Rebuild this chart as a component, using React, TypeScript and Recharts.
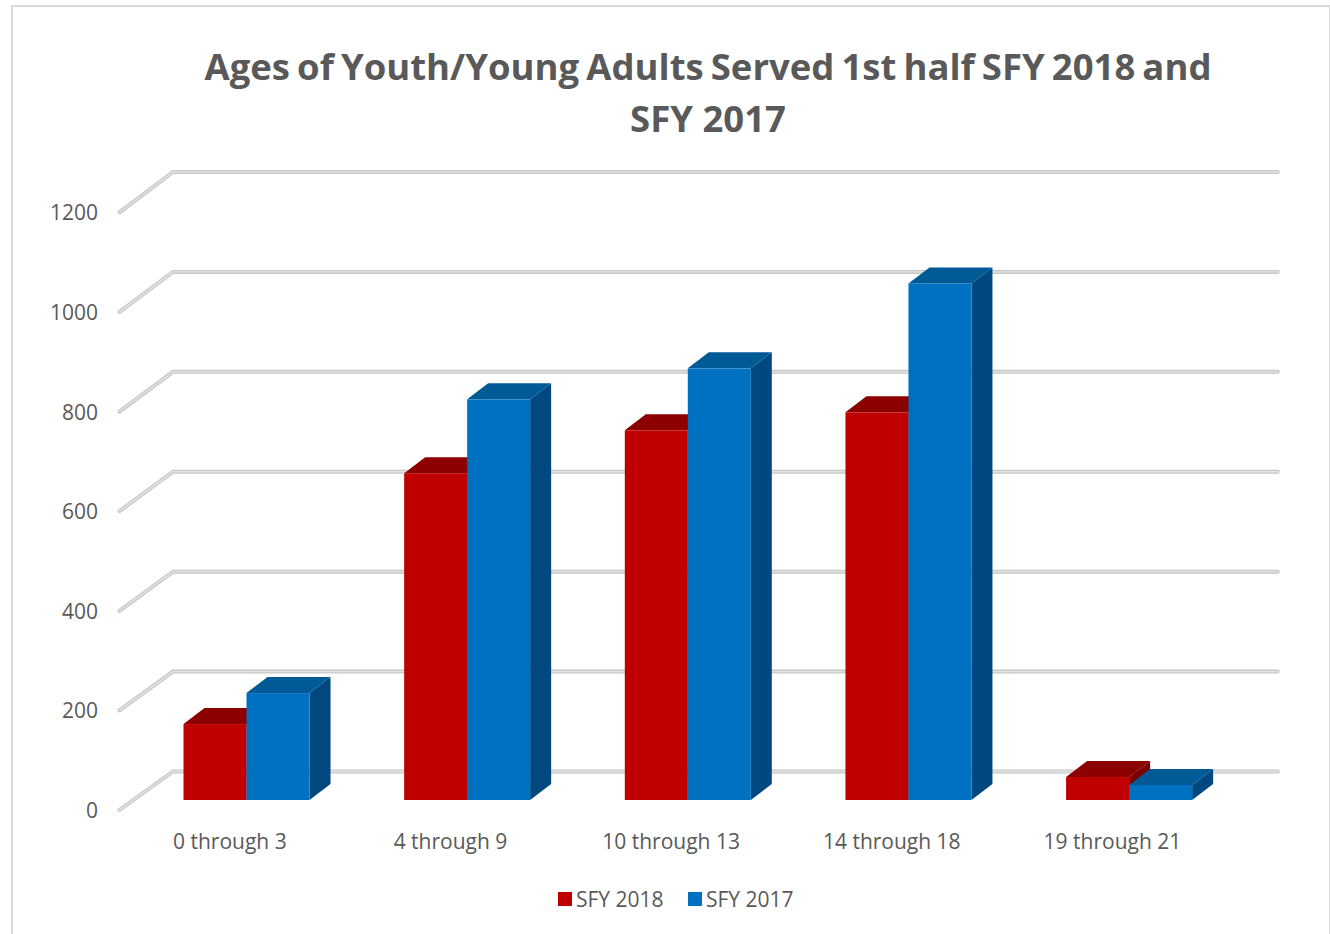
import React from "react";
import { BarChart, Bar, XAxis, YAxis, CartesianGrid, Legend } from "recharts";

const categories = ["0 through 3", "4 through 9", "10 through 13", "14 through 18", "19 through 21"];
const sfy2018 = [152, 654, 740, 776, 46];
const sfy2017 = [214, 802, 864, 1034, 30];
const yTicks = [0, 200, 400, 600, 800, 1000, 1200];

const dataset = categories.map((name, idx) => ({
  name,
  sfy2018: sfy2018[idx],
  sfy2017: sfy2017[idx],
}));

const FONT = "'Open Sans', sans-serif";
const TEXT = "#595959";
const DEPTH_X = 21;
const DEPTH_Y = 16;
const FLOOR_Y = 800;

// the front edge of the side wall is a touch shorter than the back wall
const frontY = (y: number) => y + 10 + (FLOOR_Y - y) * 0.003;

function Bar3D({ x, y, width, height, fill, topFill, sideFill }: any) {
  const r = x + width;
  const b = y + height;
  return (
    <g>
      <polygon
        points={`${r},${y} ${r + DEPTH_X},${y - DEPTH_Y} ${r + DEPTH_X},${b - DEPTH_Y} ${r},${b}`}
        fill={sideFill}
      />
      <polygon
        points={`${x},${y} ${x + DEPTH_X},${y - DEPTH_Y} ${r + DEPTH_X},${y - DEPTH_Y} ${r},${y}`}
        fill={topFill}
      />
      <rect x={x} y={y} width={width} height={height} fill={fill} />
    </g>
  );
}

// floor-to-wall gridline: diagonal on the side wall, then flat along the back wall
function WallLine({ x1, x2, y1 }: any) {
  const pts = `${x1 - 17},${frontY(y1)} ${x1 + 36.5},${y1 - 28.5} ${x2 + 38},${y1 - 28.5}`;
  return (
    <g fill="none" strokeLinecap="round">
      <polyline points={pts} stroke="#c8c8c8" strokeWidth={4} />
      <polyline points={pts} stroke="#e4e4e4" strokeWidth={1.4} />
    </g>
  );
}

function ValueTick({ y, payload }: any) {
  return (
    <text x={98} y={frontY(y)} textAnchor="end" dominantBaseline="central" fontSize={21} fontFamily={FONT} fill={TEXT}>
      {payload.value}
    </text>
  );
}

function CategoryTick({ x, payload }: any) {
  return (
    <text x={x - 17} y={841} textAnchor="middle" dominantBaseline="central" fontSize={21} fontFamily={FONT} fill={TEXT}>
      {payload.value}
    </text>
  );
}

function LegendRow({ payload }: any) {
  return (
    <div style={{ display: "flex", alignItems: "center", fontFamily: FONT, fontSize: 21, color: TEXT, lineHeight: "24px" }}>
      {(payload ?? []).map((entry: any) => (
        <div key={entry.value} style={{ display: "flex", alignItems: "center", width: 130 }}>
          <span style={{ width: 14, height: 14, background: entry.color, marginRight: 4 }} />
          {entry.value}
        </div>
      ))}
    </div>
  );
}

export default function App() {
  return (
    <div style={{ position: "absolute", left: 0, top: 0, width: 1330, height: 934, overflow: "hidden", background: "#fff" }}>
      <div style={{ position: "absolute", left: 11, top: 5, width: 1316, height: 1000, border: "2px solid #d9d9d9" }} />
      <div
        style={{
          position: "absolute",
          left: 158,
          top: 40,
          width: 1100,
          textAlign: "center",
          fontFamily: FONT,
          fontWeight: 700,
          fontSize: 36.5,
          lineHeight: "52px",
          color: TEXT,
        }}
      >
        <span style={{ wordSpacing: -2.4 }}>Ages of Youth/Young Adults Served 1st half SFY 2018 and</span>
        <br />
        SFY 2017
      </div>
      <div style={{ position: "absolute", left: 0, top: 0 }}>
        <BarChart
          width={1330}
          height={934}
          data={dataset}
          margin={{ top: 200.5, right: 90.25, bottom: 133, left: 135.5 }}
          barSize={63}
          barGap={0}
        >
          <CartesianGrid vertical={false} horizontal={(props: any) => <WallLine key={props.y1} {...props} />} />
          <XAxis dataKey="name" axisLine={false} tickLine={false} height={1} interval={0} tick={<CategoryTick />} />
          <YAxis domain={[0, 1200]} ticks={yTicks} axisLine={false} tickLine={false} width={1} interval={0} tick={<ValueTick />} />
          <Legend
            layout="horizontal"
            verticalAlign="middle"
            itemSorter={null}
            content={<LegendRow />}
            wrapperStyle={{ position: "absolute", left: 558, top: 887, width: 280 }}
          />
          <Bar
            dataKey="sfy2018"
            name="SFY 2018"
            fill="#C00000"
            isAnimationActive={false}
            shape={(p: any) => <Bar3D {...p} topFill="#8C0000" sideFill="#7A0000" />}
          />
          <Bar
            dataKey="sfy2017"
            name="SFY 2017"
            fill="#0070C0"
            isAnimationActive={false}
            shape={(p: any) => <Bar3D {...p} topFill="#005A96" sideFill="#00487F" />}
          />
        </BarChart>
      </div>
    </div>
  );
}
